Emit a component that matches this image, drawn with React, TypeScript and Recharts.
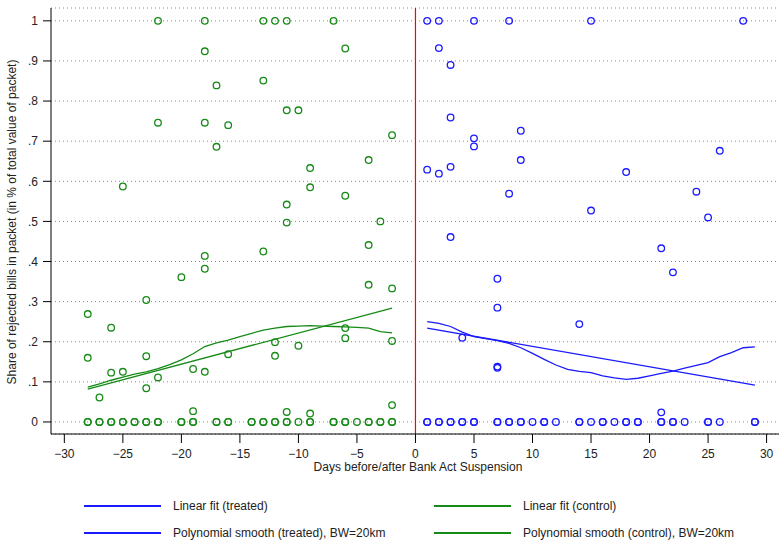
import {
  CartesianGrid,
  Label,
  ReferenceLine,
  Scatter,
  ScatterChart,
  XAxis,
  YAxis,
} from "recharts";

const xTicks = [-30, -25, -20, -15, -10, -5, 0, 5, 10, 15, 20, 25, 30];
const yTicks = [0, 0.1, 0.2, 0.3, 0.4, 0.5, 0.6, 0.7, 0.8, 0.9, 1];

// control group (before suspension)
const controlDays = [
  -28, -28, -27, -26, -26, -25, -25, -23, -23, -23, -22, -22, -22, -20, -19, -19,
  -18, -18, -18, -18, -18, -18, -17, -17, -16, -16, -13, -13, -13, -12, -12, -12,
  -11, -11, -11, -11, -11, -10, -10, -9, -9, -9, -7, -6, -6, -6, -6, -4, -4, -4,
  -3, -2, -2, -2, -2,
];
const controlShares = [
  0.269, 0.16, 0.061, 0.235, 0.123, 0.587, 0.125, 0.304, 0.164, 0.084, 1, 0.746, 0.111,
  0.361, 0.132, 0.027, 1, 0.924, 0.746, 0.414, 0.382, 0.125, 0.839, 0.686, 0.74, 0.169,
  1, 0.851, 0.425, 1, 0.199, 0.165, 1, 0.777, 0.542, 0.497, 0.025, 0.777, 0.19, 0.633,
  0.585, 0.021, 1, 0.931, 0.564, 0.234, 0.209, 0.653, 0.441, 0.342, 0.5, 0.715, 0.333,
  0.202, 0.042,
];
const controlZeroDays = [
  -28, -28, -27, -27, -26, -26, -25, -25, -24, -24, -23, -23, -22, -22, -20, -20, -19,
  -19, -17, -17, -16, -16, -14, -14, -13, -13, -12, -12, -11, -11, -10, -9, -9, -7, -7,
  -6, -6, -5, -4, -4, -3, -3, -2, -2,
];

// treated group (after suspension)
const treatedDays = [
  1, 1, 2, 2, 2, 3, 3, 3, 3, 4, 5, 5, 5, 7, 7, 7, 7, 8, 8, 9, 9, 14, 15, 15, 18, 21, 21,
  22, 24, 25, 26, 28,
];
const treatedShares = [
  1, 0.629, 1, 0.932, 0.619, 0.89, 0.759, 0.636, 0.461, 0.21, 1, 0.707, 0.687, 0.357,
  0.285, 0.138, 0.135, 1, 0.569, 0.726, 0.653, 0.244, 1, 0.527, 0.623, 0.433, 0.024,
  0.373, 0.574, 0.51, 0.676, 1,
];
const treatedZeroDays = [
  1, 1, 2, 2, 3, 3, 4, 4, 5, 5, 7, 7, 8, 8, 9, 9, 10, 11, 11, 12, 14, 14, 15, 16, 16, 17,
  18, 18, 19, 19, 21, 21, 22, 22, 23, 25, 25, 26, 29, 29,
];

// fitted lines
const controlFitDays = [-28, -2];
const controlFitShares = [0.082, 0.284];
const treatedFitDays = [1, 29];
const treatedFitShares = [0.234, 0.092];

const controlSmoothDays = [
  -28, -27, -26, -25, -24, -23, -22, -21, -20, -19, -18, -17, -16, -15, -14, -13, -12,
  -11, -10, -9, -8, -7, -6, -5, -4, -3, -2,
];
const controlSmoothShares = [
  0.087, 0.095, 0.104, 0.112, 0.119, 0.125, 0.133, 0.143, 0.155, 0.17, 0.188, 0.197,
  0.204, 0.213, 0.221, 0.229, 0.234, 0.238, 0.239, 0.24, 0.239, 0.238, 0.237, 0.236,
  0.234, 0.225, 0.222,
];
const treatedSmoothDays = [
  1, 2, 3, 4, 5, 6, 7, 8, 9, 10, 11, 12, 13, 14, 15, 16, 17, 18, 19, 20, 21, 22, 23, 24,
  25, 26, 27, 28, 29,
];
const treatedSmoothShares = [
  0.25, 0.246, 0.238, 0.224, 0.213, 0.208, 0.203, 0.196, 0.185, 0.171, 0.156, 0.142,
  0.131, 0.126, 0.123, 0.115, 0.11, 0.106, 0.109, 0.115, 0.121, 0.127, 0.134, 0.141,
  0.148, 0.163, 0.173, 0.185, 0.187,
];

const GREEN = "#168a16";
const BLUE = "#1a1aff";
const FONT = "'Liberation Sans', Arial, sans-serif";

const zip = (xs: number[], ys: number[]) => xs.map((x, i) => ({ x, y: ys[i] }));

const controlPoints = [
  ...zip(controlDays, controlShares),
  ...controlZeroDays.map((x) => ({ x, y: 0 })),
];
const treatedPoints = [
  ...zip(treatedDays, treatedShares),
  ...treatedZeroDays.map((x) => ({ x, y: 0 })),
];

const hollow = (color: string) => (props: any) => (
  <circle cx={props.cx} cy={props.cy} r={3.3} fill="none" stroke={color} strokeWidth={1.3} />
);
const noDot = () => <g />;

const fmtX = (v: number) => (v < 0 ? `\u2212${-v}` : `${v}`);
const fmtY = (v: number) => {
  if (v === 0) return "0";
  if (v === 1) return "1";
  return `.${Math.round(v * 10)}`;
};

const legendItems = [
  { label: "Linear fit (treated)", color: BLUE, left: 84, top: 506 },
  { label: "Linear fit (control)", color: GREEN, left: 434, top: 506 },
  { label: "Polynomial smooth (treated), BW=20km", color: BLUE, left: 84, top: 533 },
  { label: "Polynomial smooth (control), BW=20km", color: GREEN, left: 434, top: 533 },
];

export default function App() {
  return (
    <div
      style={{
        position: "absolute",
        left: 0,
        top: 0,
        width: 779,
        height: 541,
        background: "#fff",
        fontFamily: FONT,
      }}
    >
      <ScatterChart
        width={779}
        height={541}
        margin={{ top: 8, right: 0, bottom: 67, left: 0 }}
      >
        <CartesianGrid vertical={false} stroke="#8a8a8a" strokeDasharray="1 3" />
        <XAxis
          type="number"
          dataKey="x"
          domain={[-31.14, 31.06]}
          ticks={xTicks}
          interval={0}
          allowDataOverflow
          tickFormatter={fmtX}
          tickSize={9}
          tickMargin={6}
          height={40}
          stroke="#000"
          tick={{ fill: "#222", fontSize: 12, fontFamily: FONT }}
        >
          <Label
            content={() => (
              <text
                x={418}
                y={467}
                textAnchor="middle"
                dominantBaseline="central"
                fontSize={12}
                fill="#222"
                fontFamily={FONT}
              >
                Days before/after Bank Act Suspension
              </text>
            )}
          />
        </XAxis>
        <YAxis
          type="number"
          dataKey="y"
          domain={[-0.03, 1.032]}
          ticks={yTicks}
          interval={0}
          allowDataOverflow
          tickFormatter={fmtY}
          width={51}
          tickSize={8}
          tickMargin={5}
          stroke="#000"
          tick={{ fill: "#222", fontSize: 12, fontFamily: FONT }}
        >
          <Label
            content={() => (
              <text
                x={12}
                y={222}
                transform="rotate(-90 12 222)"
                textAnchor="middle"
                dominantBaseline="central"
                fontSize={12}
                fill="#222"
                fontFamily={FONT}
              >
                Share of rejected bills in packet (in % of total value of packet)
              </text>
            )}
          />
        </YAxis>
        <ReferenceLine x={0} stroke="#ff0000" strokeWidth={1.2} />
        <Scatter data={controlPoints} shape={hollow(GREEN)} isAnimationActive={false} />
        <Scatter data={treatedPoints} shape={hollow(BLUE)} isAnimationActive={false} />
        <Scatter
          data={zip(controlFitDays, controlFitShares)}
          line={{ stroke: GREEN, strokeWidth: 1.3 }}
          shape={noDot}
          isAnimationActive={false}
        />
        <Scatter
          data={zip(controlSmoothDays, controlSmoothShares)}
          line={{ stroke: GREEN, strokeWidth: 1.3 }}
          shape={noDot}
          isAnimationActive={false}
        />
        <Scatter
          data={zip(treatedFitDays, treatedFitShares)}
          line={{ stroke: BLUE, strokeWidth: 1.3 }}
          shape={noDot}
          isAnimationActive={false}
        />
        <Scatter
          data={zip(treatedSmoothDays, treatedSmoothShares)}
          line={{ stroke: BLUE, strokeWidth: 1.3 }}
          shape={noDot}
          isAnimationActive={false}
        />
      </ScatterChart>
      {legendItems.map((item) => (
        <div
          key={item.label}
          style={{ position: "absolute", left: item.left, top: item.top - 8, height: 16 }}
        >
          <div
            style={{
              position: "absolute",
              left: 0,
              top: 7,
              width: 77,
              height: 1.5,
              background: item.color,
            }}
          />
          <span
            style={{
              position: "absolute",
              left: 89,
              top: 0,
              lineHeight: "16px",
              fontSize: 12,
              color: "#222",
              whiteSpace: "nowrap",
            }}
          >
            {item.label}
          </span>
        </div>
      ))}
    </div>
  );
}
